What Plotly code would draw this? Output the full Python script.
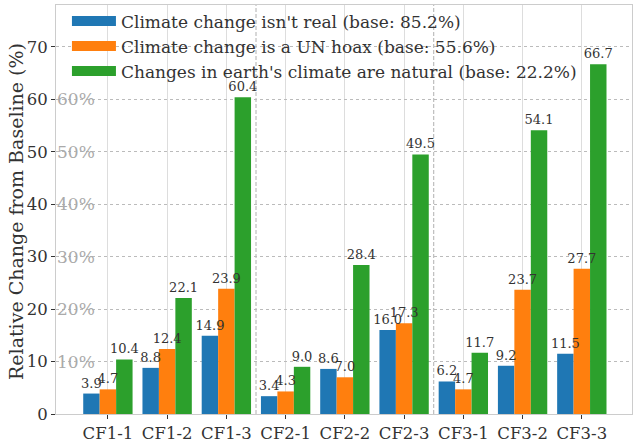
import plotly.graph_objects as go

categories = ["CF1-1", "CF1-2", "CF1-3", "CF2-1", "CF2-2", "CF2-3", "CF3-1", "CF3-2", "CF3-3"]
series_names = [
    "Climate change isn't real (base: 85.2%)",
    "Climate change is a UN hoax (base: 55.6%)",
    "Changes in earth's climate are natural (base: 22.2%)",
]
not_real = [3.9, 8.8, 14.9, 3.4, 8.6, 16.0, 6.2, 9.2, 11.5]
un_hoax = [4.7, 12.4, 23.9, 4.3, 7.0, 17.3, 4.7, 23.7, 27.7]
natural = [10.4, 22.1, 60.4, 9.0, 28.4, 49.5, 11.7, 54.1, 66.7]
colors = ["#1f77b4", "#ff7f0e", "#2ca02c"]
pct_labels = [10, 20, 30, 40, 50, 60]
group_separators = [2.5, 5.5]
y_title = "Relative Change from Baseline (%)"

FONT = "DejaVu Serif"
TXT = "#333333"

series = [not_real, un_hoax, natural]
fig = go.Figure()
for i, (name, vals, col) in enumerate(zip(series_names, series, colors)):
    fig.add_trace(go.Bar(
        x=categories, y=vals, name=name, marker_color=col, marker_line_width=0,
        offsetgroup=str(i), hoverinfo="skip", showlegend=False,
    ))
# text-only copies drawn on top of all bars
for i, (name, vals) in enumerate(zip(series_names, series)):
    fig.add_trace(go.Bar(
        x=categories, y=vals, name=name, marker_color="rgba(0,0,0,0)", marker_line_width=0,
        offsetgroup=str(i), showlegend=False,
        texttemplate="%{y:.1f}", textposition="outside", cliponaxis=False,
        constraintext="none", textfont=dict(family=FONT, size=13, color=TXT),
    ))
# legend entries (wide rectangular patches)
for name, col in zip(series_names, colors):
    fig.add_trace(go.Scatter(x=[None], y=[None], mode="lines", name=name,
                             line=dict(color=col, width=13)))

for sep in group_separators:
    fig.add_shape(type="line", xref="x", yref="paper", x0=sep, x1=sep, y0=0, y1=1,
                  line=dict(color="#b0b0b0", width=1, dash="4px,2px"), layer="below")

for p in pct_labels:
    fig.add_annotation(xref="paper", yref="y", x=0, y=p, text=f"{p}%", showarrow=False,
                       xanchor="left", yanchor="middle", xshift=-1,
                       font=dict(family=FONT, size=17, color="#aaaaaa"))

fig.add_annotation(xref="paper", yref="paper", x=-0.0694, y=0.494, text=y_title,
                   textangle=-90, showarrow=False, xanchor="center", yanchor="middle",
                   font=dict(family=FONT, size=19, color=TXT))

fig.update_layout(
    width=633, height=444,
    margin=dict(l=56, r=1, t=5, b=30),
    plot_bgcolor="white", paper_bgcolor="white",
    barmode="group", bargap=0.167, bargroupgap=0,
    font=dict(family=FONT, color=TXT),
    showlegend=True,
    legend=dict(x=0.019, y=1.004, xanchor="left", yanchor="top", itemwidth=44,
                bgcolor="rgba(255,255,255,0)", font=dict(family=FONT, size=17, color=TXT)),
    xaxis=dict(type="category", range=[-0.876, 8.847], showgrid=True, gridcolor="#dddddd",
               gridwidth=1, ticks="outside", ticklen=4, tickcolor=TXT,
               tickfont=dict(family=FONT, size=16.5, color=TXT),
               showline=True, linecolor="#cccccc", mirror=True),
    yaxis=dict(range=[0, 78], dtick=10, showgrid=True, gridcolor="#bbbbbb", griddash="dot",
               gridwidth=1, zeroline=False, ticks="outside", ticklen=4, tickcolor=TXT,
               tickfont=dict(family=FONT, size=16.5, color=TXT),
               showline=True, linecolor="#cccccc", mirror=True),
)

fig.write_html("out.html", config={"displayModeBar": False},
               post_script="document.body.style.margin='0';")
